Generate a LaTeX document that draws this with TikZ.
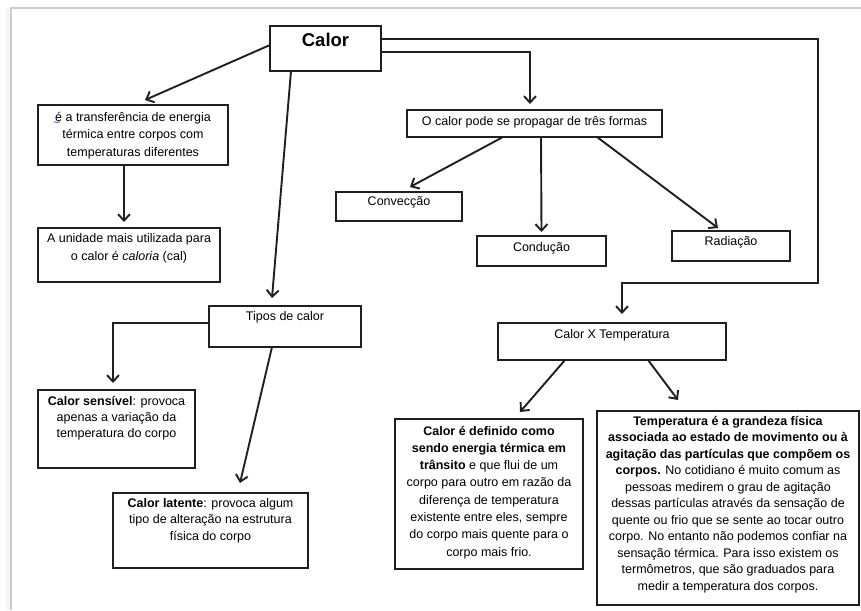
\documentclass[tikz,border=0pt]{standalone}
\usepackage{fontspec}
\setmainfont{Liberation Sans}
\usetikzlibrary{arrows.meta}
\newcommand\bxt[4]{\parbox[t][#2][t]{#1}{\centering\vspace*{#3}\rule{0pt}{12pt}#4}}
\tikzset{
  bx/.style={draw=black!88, line width=2pt, anchor=north west, inner sep=0pt, outer sep=0pt,
    font=\fontsize{12.5}{17}\selectfont},
  arr/.style={line width=1.9pt, draw=black!88,
    -{Straight Barb[length=6.5pt,width=12pt,line width=1.9pt]}},
  frame/.style={draw=gray!40, line width=1.3pt}
}
\begin{document}
\begin{tikzpicture}[x=1pt,y=-1pt]
\useasboundingbox (0,0) rectangle (861,610);
\fill[gray!8] (6,8) rectangle (11,610);
\draw[frame] (10,8) -- (861,8);
\draw[frame] (11,8) -- (11,610);

% boxes
\node[bx] (calor) at (270,26) {\bxt{111pt}{45pt}{7pt}{\fontsize{18.5}{20}\selectfont\bfseries Calor}};
\node[bx, font=\fontsize{12.5}{17.5}\selectfont] (trans) at (38,105) {\bxt{190pt}{60pt}{4pt}{é a transferência de energia\\ térmica entre corpos com\\ temperaturas diferentes}};
\node[bx, font=\fontsize{12.5}{18}\selectfont] (unid) at (38,228) {\bxt{182pt}{54pt}{2pt}{A unidade mais utilizada para\\ o calor é \textit{caloria} (cal)}};
\node[bx] (prop) at (407,110) {\bxt{255pt}{27pt}{3pt}{O calor pode se propagar de três formas}};
\node[bx] (conv) at (336,192) {\bxt{126pt}{29pt}{1pt}{Convecção}};
\node[bx] (cond) at (477,236) {\bxt{129pt}{30pt}{3pt}{Condução}};
\node[bx] (rad) at (672,231) {\bxt{118pt}{30pt}{2pt}{Radiação}};
\node[bx] (tipos) at (209,306) {\bxt{152pt}{41pt}{2pt}{Tipos de calor}};
\node[bx, font=\fontsize{12.5}{16.2}\selectfont] (sens) at (38,390) {\bxt{157pt}{78pt}{3pt}{\textbf{Calor sensível}: provoca\\ apenas a variação da\\ temperatura do corpo}};
\node[bx, font=\fontsize{12.5}{16.7}\selectfont] (lat) at (113,493) {\bxt{195pt}{75pt}{2pt}{\textbf{Calor latente}: provoca algum\\ tipo de alteração na estrutura\\ física do corpo}};
\node[bx] (cxt) at (498,323) {\bxt{228pt}{37pt}{3pt}{Calor X Temperatura}};
\node[bx, font=\fontsize{12.5}{17.3}\selectfont] (cdef) at (395,419) {\bxt{188pt}{150pt}{4pt}{\textbf{Calor é definido como}\\ \textbf{sendo energia térmica em}\\ \textbf{trânsito} e que flui de um\\ corpo para outro em razão da\\ diferença de temperatura\\ existente entre eles, sempre\\ do corpo mais quente para o\\ corpo mais frio.}};
\node[bx, font=\fontsize{12.5}{16.5}\selectfont] (temp) at (597,411) {\bxt{262pt}{194pt}{2pt}{\textbf{Temperatura é a grandeza física}\\ \textbf{associada ao estado de movimento ou à}\\ \textbf{agitação das partículas que compõem os}\\ \textbf{corpos.} No cotidiano é muito comum as\\ pessoas medirem o grau de agitação\\ dessas partículas através da sensação de\\ quente ou frio que se sente ao tocar outro\\ corpo. No entanto não podemos confiar na\\ sensação térmica. Para isso existem os\\ termômetros, que são graduados para\\ medir a temperatura dos corpos.}};

% spell-check mark
\draw[blue!70, line width=0.7pt] (54,123) -- (55.5,121.5) -- (57,123) -- (58.5,121.5) -- (60,123);

% connectors
\coordinate (bend) at (818,283);
\draw[arr] ([yshift=3.5pt]calor.west) -- ([xshift=12pt,yshift=5pt]trans.north);
\draw[arr] ([xshift=-9pt]trans.south) -- ([xshift=-5pt,yshift=6pt]unid.north);
\draw[arr] ([xshift=-34.5pt]calor.south) -- ([xshift=-13pt,yshift=8pt]tipos.north);
\draw[arr] ([yshift=-3.5pt]calor.east) -| ([xshift=-4.5pt,yshift=6pt]prop.north);
\draw[arr] ([yshift=9.5pt]calor.east) -| (bend) -| ([xshift=10pt,yshift=9pt]cxt.north);
\draw[arr] ([xshift=-31.5pt]prop.south) -- ([xshift=11pt,yshift=5pt]conv.north);
\draw[arr] ([xshift=6.5pt]prop.south) -- ([yshift=4pt]cond.north);
\draw[arr] ([xshift=62.5pt]prop.south) -- ([xshift=-13pt,yshift=3pt]rad.north);
\draw[arr] ([yshift=3.5pt]tipos.west) -| ([xshift=-3.5pt,yshift=7pt]sens.north);
\draw[arr] ([xshift=-13pt]tipos.south) -- ([xshift=29.5pt,yshift=10pt]lat.north);
\draw[arr] ([xshift=-47pt]cxt.south) -- ([xshift=31pt,yshift=7pt]cdef.north);
\draw[arr] ([xshift=36pt]cxt.south) -- ([xshift=-50pt,yshift=11pt]temp.north);
\end{tikzpicture}
\end{document}
